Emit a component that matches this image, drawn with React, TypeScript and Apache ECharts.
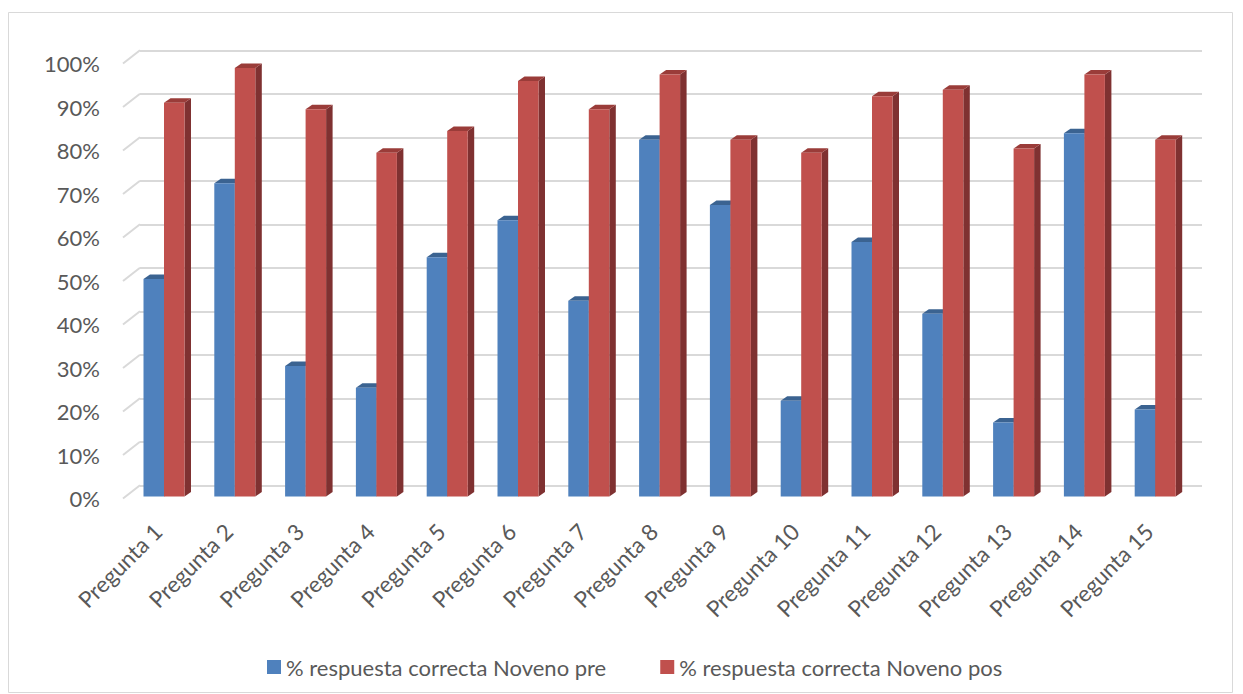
import React, { useEffect, useRef } from "react";
import * as echarts from "echarts";

const categories = [
  "Pregunta 1", "Pregunta 2", "Pregunta 3", "Pregunta 4", "Pregunta 5",
  "Pregunta 6", "Pregunta 7", "Pregunta 8", "Pregunta 9", "Pregunta 10",
  "Pregunta 11", "Pregunta 12", "Pregunta 13", "Pregunta 14", "Pregunta 15",
];
const seriesNames = ["% respuesta correcta Noveno pre", "% respuesta correcta Noveno pos"];
const preValues = [0.5, 0.72, 0.3, 0.25, 0.55, 0.635, 0.45, 0.82, 0.67, 0.22, 0.585, 0.42, 0.17, 0.835, 0.2];
const posValues = [0.905, 0.985, 0.89, 0.79, 0.84, 0.955, 0.89, 0.97, 0.82, 0.79, 0.92, 0.935, 0.8, 0.97, 0.82];
const yTicks = [0, 0.1, 0.2, 0.3, 0.4, 0.5, 0.6, 0.7, 0.8, 0.9, 1];

const FONT = "Lato";
const TEXT = "#595959";
const GRID = "#D9D9D9";
const COLORS = [
  { front: "#4F81BD", top: "#3B6391", side: "#385D8A" },
  { front: "#C0504D", top: "#9A3C39", side: "#7F3131" },
];
const DEPTH_X = 17;
const DEPTH_Y = 13.2;
const BAR_DX = 6.5;
const BAR_DY = 4.5;
const BAR_W = 20.5;

function makeBarSeries(idx: number, values: number[]) {
  const c = COLORS[idx];
  return {
    type: "custom",
    name: seriesNames[idx],
    xAxisIndex: 2,
    yAxisIndex: 2,
    itemStyle: { color: c.front },
    data: values.map((v, i) => [i, v]),
    renderItem: (params: any, api: any) => {
      const i = api.value(0);
      const v = api.value(1);
      const base = api.coord([i, 0]);
      const top = api.coord([i, v]);
      const x0 = idx === 0 ? base[0] - BAR_W : base[0];
      const x1 = x0 + BAR_W;
      const yb = base[1];
      const yt = top[1];
      return {
        type: "group",
        children: [
          {
            type: "polygon",
            shape: { points: [[x1, yb], [x1 + BAR_DX, yb - BAR_DY], [x1 + BAR_DX, yt - BAR_DY], [x1, yt]] },
            style: { fill: c.side },
          },
          {
            type: "polygon",
            shape: { points: [[x0, yt], [x1, yt], [x1 + BAR_DX, yt - BAR_DY], [x0 + BAR_DX, yt - BAR_DY]] },
            style: { fill: c.top },
          },
          {
            type: "rect",
            shape: { x: x0, y: yt, width: BAR_W, height: yb - yt },
            style: { fill: c.front },
          },
        ],
      };
    },
  };
}

export default function App() {
  const ref = useRef<HTMLDivElement>(null);
  useEffect(() => {
    if (!ref.current) return;
    const chart = echarts.init(ref.current, undefined, { renderer: "svg" });
    const hiddenValueX = (gridIndex: number) => ({
      type: "value", gridIndex, min: 0, max: 1, show: false,
    });
    chart.setOption({
      animation: false,
      backgroundColor: "#ffffff",
      textStyle: { fontFamily: FONT },
      graphic: [
        {
          type: "rect",
          shape: { x: 8.5, y: 12.5, width: 1224, height: 680 },
          style: { fill: "none", stroke: "#D9D9D9", lineWidth: 1 },
          silent: true,
        },
      ],
      legend: {
        left: 262,
        top: 651,
        itemWidth: 14,
        itemHeight: 14,
        itemGap: 54,
        icon: "rect",
        data: seriesNames,
        textStyle: { color: TEXT, fontSize: 22, fontFamily: FONT },
      },
      grid: [
        { left: 123, top: 63.5, width: 1062, height: 435 },
        { left: 140, top: 50.3, width: 1062, height: 435 },
        { left: 128.6, top: 61.5, width: 1062, height: 435 },
        { left: 122.6, top: 61.5, width: 1062, height: 435 },
      ],
      xAxis: [
        hiddenValueX(0),
        hiddenValueX(1),
        {
          type: "category",
          gridIndex: 2,
          data: categories,
          axisLine: { show: false },
          axisTick: { show: false },
          axisLabel: { show: false },
        },
        {
          type: "category",
          gridIndex: 3,
          data: categories,
          axisLine: { show: false },
          axisTick: { show: false },
          axisLabel: {
            interval: 0,
            rotate: 45,
            margin: 31,
            color: TEXT,
            fontSize: 22.5,
            fontFamily: FONT,
          },
        },
      ],
      yAxis: [
        {
          type: "value",
          gridIndex: 0,
          min: 0,
          max: 1,
          interval: 0.1,
          splitLine: { show: false },
          axisLine: { show: false },
          axisTick: { show: false },
          axisLabel: {
            margin: 23,
            color: TEXT,
            fontSize: 22,
            fontFamily: FONT,
            formatter: (v: number) => Math.round(v * 100) + "%",
          },
        },
        {
          type: "value",
          gridIndex: 1,
          min: 0,
          max: 1,
          interval: 0.1,
          axisLine: { show: false },
          axisTick: { show: false },
          axisLabel: { show: false },
          splitLine: { show: true, lineStyle: { color: GRID, width: 2 } },
        },
        { type: "value", gridIndex: 2, min: 0, max: 1, show: false, splitLine: { show: false } },
        { type: "value", gridIndex: 3, min: 0, max: 1, show: false, splitLine: { show: false } },
      ],
      series: [
        {
          type: "custom",
          xAxisIndex: 0,
          yAxisIndex: 0,
          silent: true,
          data: yTicks.map((t) => [0, t]),
          renderItem: (params: any, api: any) => {
            const p = api.coord([0, api.value(1)]);
            return {
              type: "line",
              shape: { x1: p[0], y1: p[1], x2: p[0] + DEPTH_X, y2: p[1] - DEPTH_Y },
              style: { stroke: GRID, lineWidth: 2 },
            };
          },
        },
        makeBarSeries(0, preValues),
        makeBarSeries(1, posValues),
      ],
    });
    return () => chart.dispose();
  }, []);
  return (
    <div
      ref={ref}
      style={{ position: "fixed", left: 0, top: 0, width: 1243, height: 694, background: "#fff" }}
    />
  );
}
